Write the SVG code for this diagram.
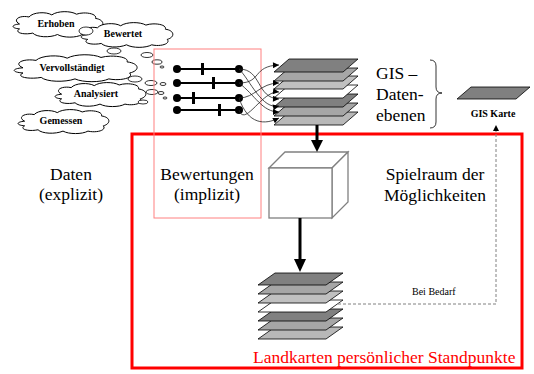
<svg xmlns="http://www.w3.org/2000/svg" xmlns:xlink="http://www.w3.org/1999/xlink" width="534" height="374" viewBox="0 0 534 374">
<style>
.cloud{fill:#fff;stroke:#000;stroke-width:1}
.cl{font-family:"Liberation Serif",serif;font-weight:bold;font-size:10px;text-anchor:middle;fill:#000}
.big{font-family:"Liberation Serif",serif;font-size:17.5px;fill:#000}
.mid{text-anchor:middle}
.bub{fill:#fff;stroke:#000;stroke-width:0.8}
.lay{stroke:#000;stroke-width:0.8}
.row{stroke:#000;stroke-width:2}
.curve{fill:none;stroke:#222;stroke-width:0.8;marker-end:url(#ah)}
</style>
<defs>
<path id="cloudp" d="M10,20 C2,14 10,7 20,10 C24,3 38,2 44,7 C50,1 64,1 70,6 C78,2 92,5 90,12 C100,14 100,24 92,27 C96,34 84,38 76,35 C70,40 56,40 50,35 C42,40 28,39 24,33 C14,36 4,32 10,27 C1,26 1,21 10,20 Z" vector-effect="non-scaling-stroke"/>
<marker id="ah" viewBox="0 0 10 10" refX="10" refY="5" markerWidth="7" markerHeight="6" markerUnits="userSpaceOnUse" orient="auto"><path d="M0,0 L10,5 L0,10 Z" fill="#000"/></marker>
<marker id="ahs" viewBox="0 0 10 10" refX="10" refY="5" markerWidth="5" markerHeight="5" markerUnits="userSpaceOnUse" orient="auto"><path d="M0,0 L10,5 L0,10 Z" fill="#000"/></marker>
</defs>

<g id="frame-standpunkte">
<rect x="132" y="134" width="390" height="234" fill="none" stroke="#ff0000" stroke-width="3"/>
<text class="big" x="253" y="363" fill="#ff0000" style="fill:#ff0000">Landkarten persönlicher Standpunkte</text>
</g>

<g id="cloud-erhoben">
<use xlink:href="#cloudp" class="cloud" transform="translate(10,10) scale(0.95,0.7)"/>
<text class="cl" x="56" y="27">Erhoben</text>
</g>
<g id="cloud-bewertet">
<use xlink:href="#cloudp" class="cloud" transform="translate(78,21) scale(0.97,0.68)"/>
<ellipse class="bub" cx="86" cy="31" rx="7" ry="4"/>
<text class="cl" x="123" y="37">Bewertet</text>
</g>
<g id="cloud-vervollstaendigt">
<use xlink:href="#cloudp" class="cloud" transform="translate(10,53) scale(1.3,0.74)"/>
<text class="cl" x="72" y="71">Vervollständigt</text>
</g>
<g id="cloud-analysiert">
<use xlink:href="#cloudp" class="cloud" transform="translate(52,81) scale(0.96,0.66)"/>
<text class="cl" x="96" y="97">Analysiert</text>
</g>
<g id="cloud-gemessen">
<use xlink:href="#cloudp" class="cloud" transform="translate(15,108) scale(0.96,0.66)"/>
<text class="cl" x="61" y="124">Gemessen</text>
</g>
<g id="bubbles">
<ellipse class="bub" cx="114" cy="51" rx="7" ry="3"/>
<ellipse class="bub" cx="147" cy="55" rx="6" ry="2.5"/>
<ellipse class="bub" cx="157" cy="62" rx="5" ry="2.2"/>
<ellipse class="bub" cx="162" cy="67" rx="2" ry="1"/>
<ellipse class="bub" cx="135" cy="79" rx="7" ry="3"/>
<ellipse class="bub" cx="151" cy="83" rx="6" ry="2.5"/>
<ellipse class="bub" cx="163" cy="84" rx="3" ry="1.5" fill="#aaa"/>
<ellipse class="bub" cx="152" cy="92" rx="6" ry="2.5"/>
<ellipse class="bub" cx="161" cy="93" rx="3" ry="1.5"/>
<ellipse class="bub" cx="143" cy="102" rx="5" ry="2"/>
<ellipse class="bub" cx="165" cy="98" rx="2" ry="1"/>
</g>

<g id="label-daten">
<text class="big mid" x="71" y="180">Daten</text>
<text class="big mid" x="71" y="200">(explizit)</text>
</g>

<g id="bewertungen">
<rect x="154" y="49" width="107" height="169" fill="none" stroke="#ff8080" stroke-width="1"/>
<line class="row" x1="177" y1="69" x2="239" y2="69"/>
<line class="row" x1="177" y1="83" x2="239" y2="83"/>
<line class="row" x1="177" y1="98" x2="239" y2="98"/>
<line class="row" x1="177" y1="110" x2="239" y2="110"/>
<g fill="#000">
<circle cx="177" cy="69" r="4"/><circle cx="239" cy="69" r="4"/>
<circle cx="177" cy="83" r="4"/><circle cx="239" cy="83" r="4"/>
<circle cx="177" cy="98" r="4"/><circle cx="239" cy="98" r="4"/>
<circle cx="177" cy="110" r="4"/><circle cx="239" cy="110" r="4"/>
<rect x="201" y="63" width="3" height="12"/>
<rect x="212" y="77" width="3" height="12"/>
<rect x="192" y="92" width="3" height="12"/>
<rect x="218" y="104" width="3" height="12"/>
</g>
<text class="big mid" x="207" y="180">Bewertungen</text>
<text class="big mid" x="207" y="200">(implizit)</text>
</g>

<g id="gis-datenebenen">
<polygon class="lay" fill="#b8b8b8" points="274,125 289,112 358,112 343,125"/>
<polygon class="lay" fill="#a6a6a6" points="274,116 289,103 358,103 343,116"/>
<polygon class="lay" fill="#808080" points="274,107 289,94 358,94 343,107"/>
<polygon class="lay" fill="#ffffff" points="274,98 289,85 358,85 343,98"/>
<polygon class="lay" fill="#c0c0c0" points="274,89 289,76 358,76 343,89"/>
<polygon class="lay" fill="#a6a6a6" points="274,81 289,68 358,68 343,81"/>
<polygon class="lay" fill="#808080" points="274,72 289,59 358,59 343,72"/>
<text class="big" x="376" y="79">GIS –</text>
<text class="big" x="376" y="100">Daten-</text>
<text class="big" x="376" y="121">ebenen</text>
<path d="M430,60 Q436,60 436,66 L436,87 Q436,93 442,93 Q436,93 436,99 L436,122 Q436,128 430,128" fill="none" stroke="#000" stroke-width="0.8"/>
</g>

<g id="gis-karte">
<polygon class="lay" fill="#808080" points="457,99 471,87 530,87 516,99"/>
<text class="cl" x="493" y="117">GIS Karte</text>
</g>

<g id="spielraum">
<polygon points="269,168 285,152 348,152 332,168" fill="#fff" stroke="#808080" stroke-width="1.3"/>
<polygon points="332,168 348,152 348,202 332,218" fill="#fff" stroke="#808080" stroke-width="1.3"/>
<rect x="269" y="168" width="63" height="50" fill="#fff" stroke="#808080" stroke-width="1.3"/>
<text class="big mid" x="435" y="180">Spielraum der</text>
<text class="big mid" x="435" y="201">Möglichkeiten</text>
</g>

<g id="landkarten-stack">
<polygon class="lay" fill="#b8b8b8" points="258,339 275,327 343,327 326,339"/>
<polygon class="lay" fill="#a6a6a6" points="258,330 275,318 343,318 326,330"/>
<polygon class="lay" fill="#808080" points="258,321 275,309 343,309 326,321"/>
<polygon class="lay" fill="#ffffff" points="258,312 275,300 343,300 326,312"/>
<polygon class="lay" fill="#c0c0c0" points="258,303 275,291 343,291 326,303"/>
<polygon class="lay" fill="#a6a6a6" points="258,294 275,282 343,282 326,294"/>
<polygon class="lay" fill="#808080" points="258,285 275,273 343,273 326,285"/>
</g>

<g id="connectors">
<path class="curve" d="M239,69 C262,69 256,98 279,99"/>
<path class="curve" d="M239,69 C250,80 262,110 279,106"/>
<path class="curve" d="M239,83 C262,83 252,66 279,65"/>
<path class="curve" d="M239,83 C255,95 262,112 279,112"/>
<path class="curve" d="M239,98 C255,98 260,83 279,83"/>
<path class="curve" d="M239,98 C248,125 265,125 279,118"/>
<path class="curve" d="M239,110 C245,128 262,90 279,92"/>
<line x1="317" y1="125" x2="317" y2="141" stroke="#000" stroke-width="3"/>
<polygon points="311,140 323,140 317,152" fill="#000"/>
<line x1="300" y1="218" x2="300" y2="260" stroke="#000" stroke-width="3"/>
<polygon points="294,259 306,259 300,272" fill="#000"/>
<polyline points="338,304 496,304 496,131" fill="none" stroke="#808080" stroke-width="1" stroke-dasharray="3,2"/>
<polygon points="493,131 499,131 496,125" fill="#000"/>
<text x="412" y="295" font-family="'Liberation Serif',serif" font-size="10" fill="#000">Bei Bedarf</text>
</g>
</svg>
